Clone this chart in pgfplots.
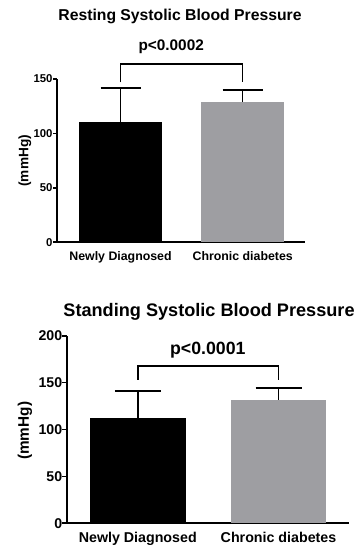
\documentclass[border=0pt]{standalone}
\usepackage{fontspec}
\setmainfont{Liberation Sans}
\usepackage{pgfplots}
\pgfplotsset{compat=1.18}
\definecolor{bargray}{HTML}{9E9EA2}
\newcommand{\fs}[1]{\fontsize{#1}{#1}\selectfont\bfseries}
\begin{document}
\begin{tikzpicture}[x=1bp,y=1bp]
\useasboundingbox (0,0) rectangle (358,548);
% ---------- top panel ----------
\begin{axis}[
  at={(57bp,305.7bp)}, anchor=south west, scale only axis,
  width=248bp, height=163.3bp,
  axis x line=bottom, axis y line=left,
  axis line style={-, line width=1.6pt},
  xmin=-0.52, xmax=1.51, ymin=0, ymax=150,
  xtick={0,1}, xticklabels={Newly Diagnosed, Chronic diabetes},
  ytick={0,50,100,150},
  major x tick style={draw=none},
  major y tick style={line width=1.6pt, black},
  tick align=outside, major tick length=4bp,
  /pgf/number format/assume math mode=true,
  yticklabel style={font=\fs{11.4}, xshift=3bp},
  xticklabel style={font=\fs{12.4}, yshift=-2bp},
  clip=false,
]
\addplot[ybar, bar width=83bp, bar shift=0pt, fill=black, draw=none]
  coordinates {(0,110.5)};
\addplot[ybar, bar width=83bp, bar shift=0pt, fill=bargray, draw=none]
  coordinates {(1,128.7)};
\addplot[draw=none, mark=none,
  error bars/.cd, y dir=plus, y explicit, error mark=|,
  error bar style={draw=black, solid, line width=1.6pt},
  error mark options={draw=black, solid, line width=1.6pt, mark size=20bp}]
  coordinates {(0,110.5) +- (0,31) (1,128.7) +- (0,11.3)};
\addplot[black, line width=1.6pt, mark=none] coordinates {(0,147) (0,163.6) (1,163.6) (1,147)};
\end{axis}
\node[font=\fs{15.8}] at (180,531.3) {Resting Systolic Blood Pressure};
\node[font=\fs{15.4}] at (171.2,501.3) {p<0.0002};
\node[font=\fs{13.7}, rotate=90] at (25,387.2) {(mmHg)};
% ---------- bottom panel ----------
\begin{axis}[
  at={(66.7bp,24.7bp)}, anchor=south west, scale only axis,
  width=282.6bp, height=187.6bp,
  axis x line=bottom, axis y line=left,
  axis line style={-, line width=1.7pt},
  xmin=-0.505, xmax=1.503, ymin=0, ymax=200,
  xtick={0,1}, xticklabels={Newly Diagnosed, Chronic diabetes},
  ytick={0,50,100,150,200},
  major x tick style={draw=none},
  major y tick style={line width=1.7pt, black},
  tick align=outside, major tick length=4.5bp,
  /pgf/number format/assume math mode=true,
  yticklabel style={font=\fs{14.2}, xshift=3.5bp},
  xticklabel style={font=\fs{14.3}, yshift=-1bp},
  clip=false,
]
\addplot[ybar, bar width=95.5bp, bar shift=0pt, fill=black, draw=none]
  coordinates {(0,112.6)};
\addplot[ybar, bar width=95.5bp, bar shift=0pt, fill=bargray, draw=none]
  coordinates {(1,131.5)};
\addplot[draw=none, mark=none,
  error bars/.cd, y dir=plus, y explicit, error mark=|,
  error bar style={draw=black, solid, line width=1.7pt},
  error mark options={draw=black, solid, line width=1.7pt, mark size=23bp}]
  coordinates {(0,112.6) +- (0,28.1) (1,131.5) +- (0,12.7)};
\addplot[black, line width=1.7pt, mark=none] coordinates {(0,152.8) (0,168) (1,168) (1,152.8)};
\end{axis}
\node[font=\fs{18.2}] at (209,236.3) {Standing Systolic Blood Pressure};
\node[font=\fs{17.8}] at (207.8,198) {p<0.0001};
\node[font=\fs{15.4}, rotate=90] at (25,117.2) {(mmHg)};
\end{tikzpicture}
\end{document}
